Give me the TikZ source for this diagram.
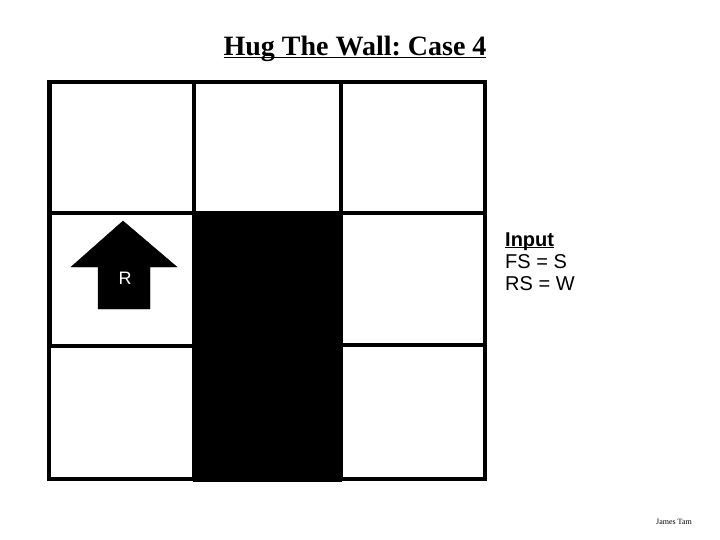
\documentclass[tikz,border=0pt]{standalone}
\usepackage{fontspec}
\setmainfont{Liberation Serif}
\setsansfont{Liberation Sans}
\usetikzlibrary{calc}

\begin{document}
\begin{tikzpicture}[x=1pt, y=-1pt]
		%%%%% START %%%%%
		
		\useasboundingbox (0, 0) rectangle (720, 540);
		
		\node[anchor=base] (title) at (355, 56) {\fontsize{28}{32}\selectfont\bfseries\frenchspacing\underline{\smash{Hug The Wall: Case 4}}};
		
		\draw[fill=black] (193, 212) rectangle (341, 481);
		
		\draw[line width=4pt] (50, 82) rectangle (194, 213);
		\draw[line width=4pt] (194, 82) rectangle (341, 213);
		\draw[line width=4pt] (341, 82) rectangle (485, 213);
		\draw[line width=4pt] (50, 213) rectangle (194, 346);
		\draw[line width=4pt] (341, 213) rectangle (485, 345);
		\draw[line width=4pt] (49, 346) rectangle (194, 479);
		\draw[line width=4pt] (341, 345) rectangle (485, 479);
		\draw[line width=2pt] (48, 80) -- (48, 481);
		
		\draw[fill=black] (123, 221) -- (177, 267) -- (150, 267) -- (150, 309) -- (98, 309) -- (98, 267) -- (71, 267) -- cycle;
		\node[text=white, font=\sffamily\fontsize{18}{20}\selectfont] (robot) at (125, 278) {R};
		
		\node[anchor=base west, inner sep=0pt, font=\sffamily\bfseries\fontsize{20}{23}\selectfont] (input) at (505, 246) {\underline{\smash{Input}}};
		\node[anchor=base west, inner sep=0pt, font=\sffamily\fontsize{20}{23}\selectfont] (fs) at (505, 268) {FS = S};
		\node[anchor=base west, inner sep=0pt, font=\sffamily\fontsize{20}{23}\selectfont] (rs) at (505, 290) {RS = W};
		
		\node[font=\fontsize{8}{9}\selectfont] (sign) at (674, 522) {James Tam};
		
		%%%%% END %%%%%
	\end{tikzpicture}
\end{document}
